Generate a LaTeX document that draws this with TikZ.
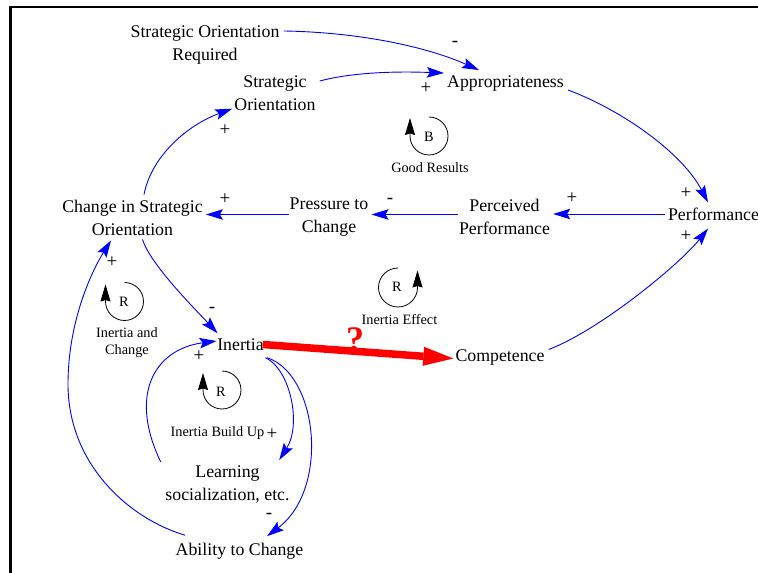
\documentclass[tikz,border=0pt]{standalone}
\usepackage{fontspec}
\setmainfont{Liberation Serif}
\usetikzlibrary{arrows.meta,calc}
\definecolor{linkblue}{RGB}{0,0,255}
\definecolor{hotred}{RGB}{255,0,0}

\begin{document}
\begin{tikzpicture}[x=1pt,y=1pt,
  varnode/.style={font=\fontsize{17.8}{23}\selectfont, align=center, inner sep=3pt},
  loopnote/.style={font=\fontsize{14.3}{17}\selectfont, align=center, inner sep=0pt},
  polarity/.style={font=\fontsize{19}{19}\selectfont, inner sep=0pt},
  cldlink/.style={draw=linkblue, line width=0.9pt,
    -{Stealth[length=17pt,width=10.5pt,inset=3pt]}},
  loopline/.style={draw=black, line width=0.8pt,
    -{Stealth[length=17pt,width=10pt,inset=1.5pt]}},
  doubtlink/.style={draw=hotred, line width=7.5pt,
    -{Triangle[length=30pt,width=19pt,line width=0pt]}},
  qmark/.style={font=\fontsize{36}{36}\selectfont\bfseries, text=hotred, inner sep=0pt}
]
\useasboundingbox (0,0) rectangle (758,573);

% frame
\draw[line width=2.5pt] (10.7,0) -- (10.7,565.8) -- (758,565.8);

% variables
\node[varnode] (sor) at (205,527.5) {Strategic Orientation\\Required};
\node[varnode] (so) at (275,480) {Strategic\\Orientation};
\node[varnode] (app) at (505.5,489) {Appropriateness};
\node[varnode] (cso) at (132.5,355.5) {Change in Strategic\\Orientation};
\node[varnode] (ptc) at (329,356) {Pressure to\\Change};
\node[varnode] (pp) at (504.5,356.5) {Perceived\\Performance};
\node[varnode] (perf) at (713.5,359) {Performance};
\node[varnode] (inertia) at (240.5,228.5) {Inertia};
\node[varnode] (comp) at (500,215.5) {Competence};
\node[varnode] (learn) at (227.5,89) {Learning\\socialization, etc.};
\node[varnode] (atc) at (239.5,21.5) {Ability to Change};

% causal links
\draw[cldlink] ($(sor.east)+(1,14.5)$) .. controls (350,541) and (420,529) .. ($(app.north)+(-26.5,3)$);
\draw[cldlink] ($(so.east)+(1,12)$) .. controls (350,500) and (390,502) .. ($(app.west)+(0,11)$);
\draw[cldlink] ($(app.east)+(1,-6)$) .. controls (624,462) and (683,419) .. ($(perf.north)+(-5.5,2)$);
\draw[cldlink] (perf.west) -- (perf.west -| pp.east);
\draw[cldlink] ($(pp.west)+(2,2)$) -- ($(pp.west -| ptc.east)+(0,2)$);
\draw[cldlink] ($(ptc.west)+(2,2.5)$) -- ($(ptc.west -| cso.east)+(0,2.5)$);
\draw[cldlink] ($(cso.north)+(11.5,2)$) .. controls (152,419) and (190,449) .. ($(so.south west)+(1,5)$);
\draw[cldlink] ($(cso.south)+(10,-1)$) .. controls (150,309) and (195,264) .. ($(inertia.north west)+(3.5,2)$);
\draw[cldlink] ($(comp.east)+(1,8)$) .. controls (600,243) and (680,309) .. ($(perf.south)+(-5.5,-5)$);
\draw[cldlink] ($(atc.north)+(-54.5,5)$) .. controls (130,54) and (68,108) .. (68,189)
  .. controls (68,249) and (90,299) .. ($(cso.south)+(-21.5,-2)$);
\draw[cldlink] ($(learn.north west)+(-1.5,0)$) .. controls (128,179) and (155,224) .. ($(inertia.west)+(2.5,3.5)$);
\draw[cldlink] ($(inertia.south east)+(-1.5,-4)$) .. controls (290,204) and (302,149) .. ($(learn.north east)+(-13.5,2)$);
\draw[cldlink] ($(inertia.south east)+(0,-4)$) .. controls (318,199) and (330,84) .. ($(atc.north)+(27.5,4)$);

% the questioned link
\draw[doubtlink] ($(inertia.east)+(-4,0)$) -- ($(comp.west)+(1,-1)$)
  node[pos=0.484, anchor=base, qmark] (doubt) {?};

% link polarities
\node[polarity] (s1) at (455,529) {-};
\node[polarity] (s2) at (426,485) {+};
\node[polarity] (s3) at (686,380) {+};
\node[polarity] (s4) at (572,375) {+};
\node[polarity] (s5) at (390,372) {-};
\node[polarity] (s6) at (225,374) {+};
\node[polarity] (s7) at (225,443) {+};
\node[polarity] (s8) at (212,263) {-};
\node[polarity] (s9) at (686,337) {+};
\node[polarity] (s10) at (112,311) {+};
\node[polarity] (s11) at (199,217) {+};
\node[polarity] (s12) at (272,138.5) {+};
\node[polarity] (s13) at (269,57) {-};

% feedback loop markers
\draw[loopline] (429,437) ++(90:19) arc[start angle=90, end angle=-180, radius=19] -- ++(0,18);
\node[loopnote] (lb) at (429,436) {B};
\node[loopnote] (lbt) at (430,405.5) {Good Results};

\draw[loopline] (124.5,271.5) ++(90:19) arc[start angle=90, end angle=-180, radius=19] -- ++(0,17);
\node[loopnote] (lr1) at (124,271) {R};
\node[loopnote] (lr1t) at (127,230) {Inertia and\\Change};

\draw[loopline] (222,183) ++(90:19) arc[start angle=90, end angle=-180, radius=19] -- ++(0,17);
\node[loopnote] (lr2) at (221,181) {R};
\node[loopnote] (lr2t) at (217.5,139.5) {Inertia Build Up};

\draw[loopline] (398,285.5) ++(90:19.5) arc[start angle=90, end angle=360, radius=19.5] -- ++(0,17);
\node[loopnote] (lr3) at (397,286) {R};
\node[loopnote] (lr3t) at (399.5,253) {Inertia Effect};
\end{tikzpicture}
\end{document}
